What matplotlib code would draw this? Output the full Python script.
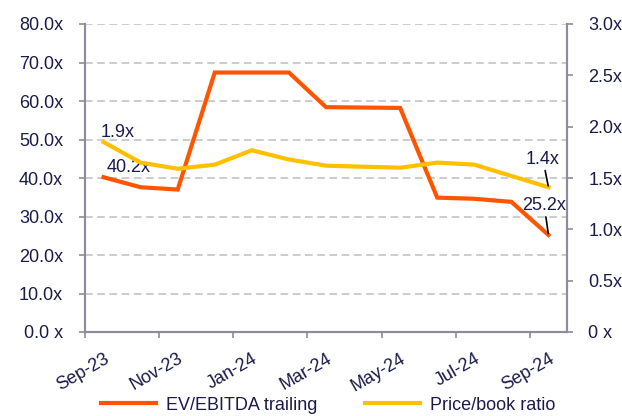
import numpy as np
import matplotlib.pyplot as plt
from matplotlib.ticker import FixedLocator

months = ["Sep-23", "Oct-23", "Nov-23", "Dec-23", "Jan-24", "Feb-24", "Mar-24",
          "Apr-24", "May-24", "Jun-24", "Jul-24", "Aug-24", "Sep-24"]
ev_ebitda = [40.2, 37.6, 37.0, 67.4, 67.4, 67.4, 58.4, 58.3, 58.2, 34.9, 34.6, 33.8, 25.2]
price_book = [1.85, 1.65, 1.59, 1.63, 1.77, 1.68, 1.62, 1.61, 1.60, 1.65, 1.63, 1.52, 1.41]
left_ticks = [0, 10, 20, 30, 40, 50, 60, 70, 80]
left_labels = ["0.0 x", "10.0x", "20.0x", "30.0x", "40.0x", "50.0x", "60.0x", "70.0x", "80.0x"]
right_ticks = [0, 0.5, 1.0, 1.5, 2.0, 2.5, 3.0]
right_labels = ["0 x", "0.5x", "1.0x", "1.5x", "2.0x", "2.5x", "3.0x"]

ORANGE = "#ff5500"
YELLOW = "#ffc000"
TEXT = "#1b1b4b"
SPINE = "#8c8c9a"


def main():
    plt.rcParams["font.family"] = ["Liberation Sans", "DejaVu Sans"]
    plt.rcParams["font.size"] = 13

    fig = plt.figure(figsize=(6.22, 4.16), dpi=100)
    ax = fig.add_axes([85 / 622, 1 - 332 / 416, (567 - 85) / 622, (332 - 24) / 416])
    ax2 = ax.twinx()

    x = np.arange(len(months))
    l1, = ax.plot(x, ev_ebitda, color=ORANGE, lw=3, solid_joinstyle="miter", zorder=3)
    l2, = ax2.plot(x, price_book, color=YELLOW, lw=3, solid_joinstyle="miter", zorder=3)

    ax.set_xlim(-0.5, len(months) - 0.5)
    ax.set_ylim(0, 80)
    ax2.set_ylim(0, 3.0)

    # tick marks at category boundaries, labels at every second month
    ax.xaxis.set_major_locator(FixedLocator(np.arange(-0.5, len(months) - 1, 2)))
    ax.xaxis.set_major_formatter(plt.NullFormatter())
    ax.xaxis.set_minor_locator(FixedLocator(x[::2]))
    ax.set_xticklabels(months[::2], minor=True, rotation=30, ha="right",
                       rotation_mode="anchor", color=TEXT)
    ax.tick_params(axis="x", which="major", length=4.3, width=1.2, color=SPINE)
    ax.tick_params(axis="x", which="minor", length=0, pad=13)

    ax.set_yticks(left_ticks)
    ax.set_yticklabels(left_labels, color=TEXT)
    ax.tick_params(axis="y", length=4.3, width=1.2, color=SPINE, pad=11.5)
    ax2.set_yticks(right_ticks)
    ax2.set_yticklabels(right_labels, color=TEXT)
    ax2.tick_params(axis="y", length=4.3, width=1.2, color=SPINE, pad=11)

    ax.grid(axis="y", color="#bfbfbf", lw=1.1, linestyle=(0, (5, 3)))
    ax.set_axisbelow(True)
    for a in (ax, ax2):
        a.spines["top"].set_visible(False)
        for s in ("left", "right", "bottom"):
            a.spines[s].set_color(SPINE)
            a.spines[s].set_linewidth(1.5)

    # data labels
    ax.annotate(f"{ev_ebitda[0]:.1f}x", (x[0], ev_ebitda[0]), xytext=(2, 1),
                textcoords="offset points", ha="left", va="bottom", color=TEXT)
    ax2.annotate(f"{price_book[0]:.1f}x", (x[0], price_book[0]), xytext=(-2, 1),
                 textcoords="offset points", ha="left", va="bottom", color=TEXT)
    ax2.annotate(f"{price_book[-1]:.1f}x", (x[-1], price_book[-1]), xytext=(-4, 14),
                 textcoords="offset points", ha="center", va="bottom", color=TEXT,
                 arrowprops=dict(arrowstyle="-", color="black", lw=1.2, shrinkA=0, shrinkB=1))
    ax.annotate(f"{ev_ebitda[-1]:.1f}x", (x[-1], ev_ebitda[-1]), xytext=(-3, 15),
                textcoords="offset points", ha="center", va="bottom", color=TEXT,
                arrowprops=dict(arrowstyle="-", color="black", lw=1.2, shrinkA=0, shrinkB=1))

    fig.legend([l1, l2], ["EV/EBITDA trailing", "Price/book ratio"], ncol=2,
               loc="center left", bbox_to_anchor=(0.136, 0.026), frameon=False,
               handlelength=3.05, columnspacing=2.65, handletextpad=0.55,
               labelcolor=TEXT)

    fig.savefig("out.png", dpi=100)


if __name__ == "__main__":
    main()
